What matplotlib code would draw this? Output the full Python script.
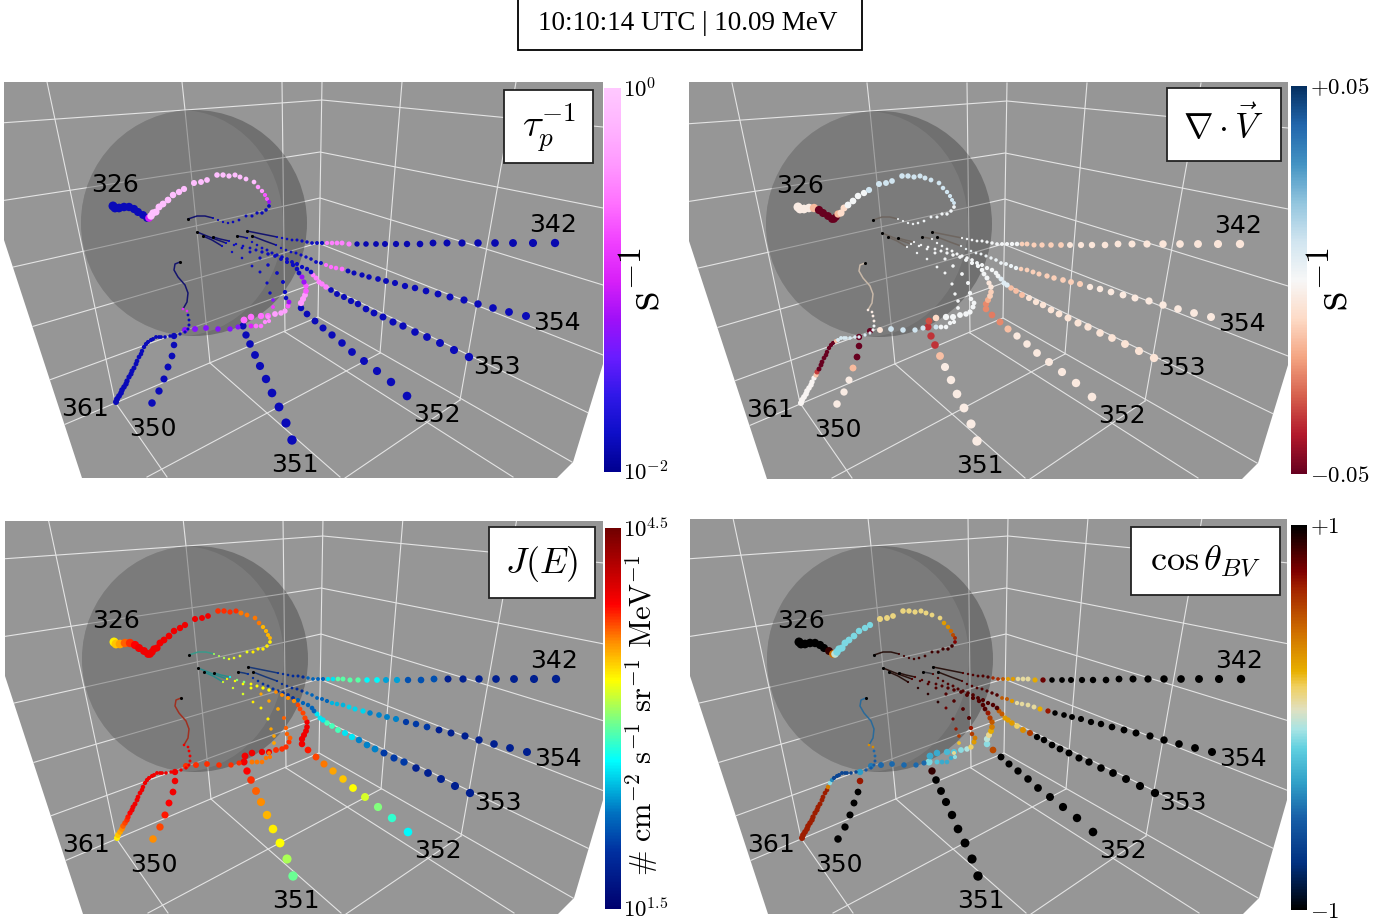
import numpy as np
import matplotlib
matplotlib.use("Agg")
import matplotlib.pyplot as plt
from matplotlib.cm import ScalarMappable
from matplotlib.colors import LinearSegmentedColormap, LogNorm, Normalize
from matplotlib.patches import Circle, Ellipse, Polygon, Rectangle

plt.rcParams['mathtext.fontset'] = 'cm'

W, H = 1398, 922

# spacecraft tracks, outer end first in its pixels
xy_342 = [(555,243),(533,243),(513,243),(495,243),(478,243),(462,243),(447,243),(433,243),(420,244),(407,244),
          (396,244),(385,244),(376,244),(366,244),(357,244),(349,244),(342,243),(337,243),(332,243),(327,243),
          (322,243),(317,243),(312,243),(307,242),(302,241),(297,240),(292,240),(287,239),(282,238),(277,237)]
xy_354 = [(526,316),(509,312),(493,308),(478,304),(464,300),(450,297),(438,294),(426,291),(415,288),(405,286),
          (395,283),(386,281),(378,279),(369,277),(362,275),(354,273),(348,271),(342,269),(336,268),(331,267),
          (326,265),(321,263),(316,262),(311,259),(306,257),(301,255),(296,253),(291,252),(286,250),(281,248),(276,245)]
xy_353 = [(469,357),(454,350),(440,343),(427,337),(415,332),(403,326),(393,322),(383,317),(374,313),(366,309),
          (358,304),(351,301),(344,297),(337,294),(331,290),(326,287),(322,284),(319,282),(316,278),(313,275),
          (311,272),(307,269),(302,267),(297,264),(292,262),(287,259),(282,257),(277,255),(272,253),(267,250),
          (262,248),(257,245),(252,242),(247,238)]
xy_352 = [(407,396),(391,382),(377,371),(364,361),(352,352),(342,343),(332,335),(323,328),(315,321),(307,314),
          (301,308),(301,303),(303,299),(305,295),(306,291),(306,286),(304,282),(302,277),(299,273),(297,269),
          (293,265),(287,262),(281,259),(275,256),(268,254),(262,252),(256,250),(250,248),(243,246),(236,244),(229,241)]
xy_351 = [(292,440),(286,423),(279,407),(272,393),(266,379),(260,366),(255,355),(250,344),(246,335),(243,326),
          (244,320),(251,317),(261,316),(268,316),(275,314),(281,313),(285,311),(288,306),(289,302),(286,298),
          (285,292),(283,282),(277,273),(268,265),(260,258),(250,252),(242,248),(234,245),(226,243)]
xy_350 = [(152,403),(159,391),(164,379),(168,367),(172,356),(174,345),(174,336),(185,330),(195,329),(206,328),
          (218,329),(230,329),(238,327),(251,326),(256,326),(261,326),(265,322),(269,321),(268,317),(273,307),
          (273,300),(270,293),(267,283),(260,272),(252,266),(242,258),(232,252),(222,246)]
xy_361 = [(116,402),(117,399),(119,396),(121,393),(122,390),(124,387),(126,384),(127,381),(129,377),(131,374),
          (132,371),(134,368),(136,364),(137,361),(139,357),(141,354),(142,351),(144,347),(146,344),(148,342),
          (151,340),(153,339),(156,337),(159,337),(161,337),(165,337),(170,336),(174,336),(180,334),(185,332),
          (188,329),(189,325),(189,320),(188,315),(187,311),(183,309)]
xy_326 = [(113,206),(115,208),(119,208),(124,207),(129,207),(134,209),(138,212),(143,215),(147,218),(149,218),
          (151,216),(153,213),(156,212),(159,207),(163,204),(168,200),(173,195),(179,192),(184,189),(194,183),
          (201,182),(207,180),(217,175),(223,175),(229,176),(235,175),(240,177),(246,179),(254,182),(258,187),
          (262,191),(265,195),(267,199),(269,202),(269,206),(266,210),(262,213),(257,213),(252,216),(246,216),
          (239,220),(233,222),(228,223),(223,222),(218,220),(213,218)]

# inner ends, seen as thin lines near the sun
tail_342 = [(277,237),(262,234),(247,231)]
tail_354 = [(276,245),(265,241),(252,236)]
tail_353 = [(247,238),(243,237),(237,236)]
tail_352 = [(229,241),(220,239),(213,237)]
tail_351 = [(226,243),(212,238),(197,232)]
tail_350 = [(222,246),(212,240),(203,236)]
tail_361 = [(183,309),(187,302),(188,293),(185,285),(178,277),(174,270),(175,264),(180,262)]
tail_326 = [(213,218),(205,216),(197,216),(188,219)]

# colour values as (count, value) runs along each track
tau_342 = [(15,.013),(5,.3),(10,.015)]
tau_354 = [(17,.014),(4,.25),(10,.015)]
tau_353 = [(15,.014),(5,.3),(14,.015)]
tau_352 = [(11,.014),(3,.4),(2,.2),(2,.06),(13,.015)]
tau_351 = [(10,.014),(4,.25),(3,.45),(1,.2),(1,.06),(10,.015)]
tau_350 = [(7,.014),(6,.05),(1,.1),(2,.25),(3,.35),(1,.15),(1,.05),(7,.015)]
tau_361 = [(34,.014),(2,.12)]
tau_326 = [(9,.014),(1,.1),(19,.8),(2,.4),(2,.2),(1,.06),(12,.014)]

div_342 = [(12,-.006),(6,-.012),(12,.001)]
div_354 = [(10,-.005),(9,-.012),(12,.003)]
div_353 = [(13,-.007),(3,-.015),(3,.006),(15,.001)]
div_352 = [(7,-.005),(1,-.015),(1,-.024),(1,-.026),(2,-.024),(1,-.018),(2,-.012),(2,-.006),(14,.001)]
div_351 = [(6,-.004),(1,-.015),(3,-.036),(1,-.032),(1,-.01),(17,.001)]
div_350 = [(3,-.004),(1,-.016),(4,-.05),(1,-.007),(5,.01),(14,.001)]
div_361 = [(9,-.001),(1,-.014),(1,-.035),(9,-.05),(1,-.015),(9,.008),(2,.002),(4,-.004)]
div_326 = [(4,-.004),(1,-.016),(6,-.05),(1,-.016),(2,-.009),(4,.001),(16,.01),(12,.002)]

flux_342 = [(7,1.8),(3,2.1),(2,2.4),(2,2.65),(4,2.9),(2,2.6),(4,2.2),(6,1.9)]
flux_354 = [(7,1.8),(3,2.0),(4,2.3),(3,2.55),(3,2.45),(5,2.2),(6,1.9)]
flux_353 = [(5,1.8),(3,2.0),(3,2.3),(2,2.6),(3,2.85),(3,2.6),(5,2.2),(10,1.95)]
flux_352 = [(1,2.65),(1,2.8),(1,3.0),(1,3.2),(1,3.3),(1,3.45),(1,3.55),(1,3.65),(1,3.75),(1,3.85),(6,3.95),(4,3.75),(4,3.6),(4,3.3),(2,3.0),(1,2.7)]
flux_351 = [(1,2.95),(1,3.1),(1,3.3),(1,3.35),(1,3.5),(1,3.6),(1,3.7),(1,3.8),(1,3.9),(1,3.95),(4,3.95),(4,3.8),(4,3.7),(3,3.55),(2,3.3)]
flux_350 = [(1,3.6),(1,3.75),(1,3.85),(1,3.9),(3,3.95),(6,3.8),(6,3.65),(3,3.55),(3,3.35),(3,3.2)]
flux_361 = [(1,3.35),(1,3.45),(1,3.55),(1,3.6),(1,3.7),(1,3.75),(1,3.8),(1,3.85),(1,3.9),(27,3.95)]
flux_326 = [(1,3.35),(1,3.45),(1,3.55),(1,3.7),(1,3.8),(1,3.9),(16,3.95),(4,3.8),(4,3.65),(4,3.5),(5,3.35),(4,3.25),(3,3.1)]

cos_342 = [(14,1),(1,.8),(1,.25),(3,.08),(2,.3),(1,.5),(2,.65),(6,.85)]
cos_354 = [(14,1),(1,.7),(1,.25),(4,.08),(1,.3),(2,.5),(8,.85)]
cos_353 = [(12,1),(1,.6),(1,.35),(1,.15),(3,.3),(2,.5),(14,.85)]
cos_352 = [(9,1),(1,.55),(1,-.1),(1,-.03),(1,.1),(1,.25),(1,.4),(1,.5),(1,.6),(1,.7),(13,.85)]
cos_351 = [(8,1),(1,.9),(1,-.12),(1,-.3),(1,-.3),(1,-.25),(1,-.2),(1,-.1),(1,-.05),(1,.15),(1,.3),(1,.4),(1,.6),(1,.7),(8,.85)]
cos_350 = [(5,1),(1,.7),(1,-.35),(1,-.45),(5,-.5),(1,-.2),(3,-.3),(1,-.1),(1,.1),(1,.2),(1,.6),(1,.7),(2,.8),(4,.92)]
cos_361 = [(16,.68),(1,.4),(1,-.1),(1,-.4),(8,-.65),(1,-.35),(4,-.55),(2,-.5),(2,.35)]
cos_326 = [(7,1),(1,.9),(1,.45),(1,-.02),(9,-.12),(10,.12),(1,.3),(1,.35),(1,.45),(1,.55),(1,.65),(1,.75),(11,.88)]

names = ['342', '354', '353', '352', '351', '350', '361', '326']
tracks = [xy_342, xy_354, xy_353, xy_352, xy_351, xy_350, xy_361, xy_326]
tails = [tail_342, tail_354, tail_353, tail_352, tail_351, tail_350, tail_361, tail_326]
# dot diameters in pixels at the outer and inner end
dot_outer = [8.3, 8, 8.3, 8.6, 9.4, 7.5, 6, 9]
dot_inner = [2.2, 2.2, 2.2, 2.2, 2.2, 2.2, 2.6, 2]
label_xy = [(553,225),(557,323),(497,367),(437,415),(295,465),(153,429),(85,409),(115,185)]

cmap_tau = LinearSegmentedColormap.from_list('tau', ['#000090','#0e0ec8','#3018e8','#6a1cff','#a010f8','#d820f8',
                                                     '#f040ff','#ff70ff','#ff98ff','#ffb4ff','#ffc8ff'])
cmap_flux = LinearSegmentedColormap.from_list('flux', [(0,'#00006e'),(.15,'#0030a0'),(.25,'#0070c0'),(.39,'#00ffff'),
                                                       (.5,'#80ff80'),(.6,'#ffff00'),(.7,'#ff9000'),(.8,'#ff0000'),(1,'#700000')])
cmap_cos = LinearSegmentedColormap.from_list('cosbv', [(0,'#000000'),(.12,'#003080'),(.24,'#1860a8'),(.33,'#30a0c8'),
                                                       (.42,'#60d0e0'),(.47,'#a8e4e4'),(.52,'#e0e0c0'),(.58,'#f0d060'),
                                                       (.62,'#e8b000'),(.72,'#d07000'),(.84,'#a02000'),(.88,'#800000'),(1,'#000000')])

panels = [
    dict(off=(0,0), top=82, right=603, cmap=cmap_tau, norm=LogNorm(1e-2, 1), vals=[tau_342,tau_354,tau_353,tau_352,tau_351,tau_350,tau_361,tau_326],
         tail='#14146e', tail_over={}, box=(504,90,593,163), title=r'$\tau_p^{-1}$', tsize=28,
         bar=(604,88,621,472), ticks=[1e-2,1], ticklabels=[r'$10^{-2}$', r'$10^{0}$'], tickx=623),
    dict(off=(685,1), top=81, right=603, cmap=plt.get_cmap('RdBu'), norm=Normalize(-.05, .05), vals=[div_342,div_354,div_353,div_352,div_351,div_350,div_361,div_326],
         tail='#6e6660', tail_over={'361':'#c8b8a8'}, box=(1167,88,1281,161), title=r'$\nabla\cdot\vec{V}$', tsize=25.5,
         bar=(1291,86,1307,474), ticks=[-.05,.05], ticklabels=[r'$-0.05$', r'$+0.05$'], tickx=1310),
    dict(off=(1,436), top=85, right=602, cmap=cmap_flux, norm=Normalize(1.5, 4.5), vals=[flux_342,flux_354,flux_353,flux_352,flux_351,flux_350,flux_361,flux_326],
         tail='#183878', tail_over={'361':'#a03020','326':'#3a9a8a','352':'#2a8a8a','351':'#2a8a8a','350':'#2a8a8a'},
         box=(489,527,595,598), title=r'$J(E)$', tsize=26,
         bar=(605,528,621,909), ticks=[1.5,4.5], ticklabels=[r'$10^{1.5}$', r'$10^{4.5}$'], tickx=623),
    dict(off=(686,436), top=83, right=601, cmap=cmap_cos, norm=Normalize(-1, 1), vals=[cos_342,cos_354,cos_353,cos_352,cos_351,cos_350,cos_361,cos_326],
         tail='#2a1410', tail_over={'361':'#2a6a9a','353':'#3a3a40'}, box=(1131,527,1280,595), title=r'$\cos\theta_{BV}$', tsize=26,
         bar=(1291,525,1307,910), ticks=[-1,1], ticklabels=[r'$-1$', r'$+1$'], tickx=1310),
]

grid_lines = [
    [(0,123),(185,110),(322,100),(603,127)], [(0,201),(320,152),(603,208)], [(0,270),(320,198),(603,285)],
    [(0,336),(318,243),(603,355)], [(0,398),(318,282),(603,420)], [(54,429),(318,317),(572,462)],
    [(47,82),(70,190),(115,402)], [(182,82),(185,110),(210,363)], [(282,82),(285,332)], [(322,82),(318,317)],
    [(402,82),(380,353)], [(516,82),(460,400)],
    [(380,353),(147,477)], [(460,400),(345,478)], [(285,332),(513,477)], [(210,363),(340,477)], [(115,402),(167,477)],
]


def values_of(runs, n):
    v = np.repeat([r[1] for r in runs], [r[0] for r in runs])
    if len(v) < n:
        v = np.append(v, [v[-1]] * (n - len(v)))
    return v[:n]


fig = plt.figure(figsize=(W / 100, H / 100), dpi=100)

for p in panels:
    ox, oy = p['off']
    x0, y0, x1, y1 = 0, 70, 610, 482
    ax = fig.add_axes([(x0 + ox) / W, 1 - (y1 + oy) / H, (x1 - x0) / W, (y1 - y0) / H])
    ax.set_xlim(x0, x1)
    ax.set_ylim(y1, y0)
    ax.axis('off')

    floor = Polygon([(4,p['top']),(p['right'],p['top']),(p['right'],364),(573,462),(557,478),(82,478),(4,240)],
                    fc='#969696', ec='none', zorder=1)
    ax.add_patch(floor)
    for seg in grid_lines:
        seg = np.array(seg)
        ln, = ax.plot(seg[:,0], seg[:,1], color='#e4e4e4', lw=0.8, zorder=2)
        ln.set_clip_path(floor)

    disk = Circle((194,223), 113, fc='black', alpha=0.25, ec='none', zorder=3)
    ax.add_patch(disk)
    inner = Ellipse((180,223), 206, 226, fc='#969696', alpha=0.3, ec='none', zorder=3.1)
    ax.add_patch(inner)
    inner.set_clip_path(disk)

    for i, name in enumerate(names):
        pts = np.array(tracks[i])
        tl = np.array(tails[i])
        ax.plot(tl[:,0], tl[:,1], color=p['tail_over'].get(name, p['tail']), lw=1.1, zorder=4, solid_capstyle='round')
        ax.scatter(tl[-1,0], tl[-1,1], s=5, c='black', linewidths=0, zorder=4.1)
        d = np.linspace(dot_outer[i], dot_inner[i], len(pts))
        ax.scatter(pts[:,0], pts[:,1], s=(d * 0.72) ** 2, c=values_of(p['vals'][i], len(pts)),
                   cmap=p['cmap'], norm=p['norm'], linewidths=0, zorder=5)
        ax.text(label_xy[i][0], label_xy[i][1], name, fontsize=18, ha='center', va='center', color='black', zorder=6)

    # title box of the panel
    bx0, by0, bx1, by1 = p['box']
    fig.add_artist(Rectangle((bx0 / W, 1 - by1 / H), (bx1 - bx0) / W, (by1 - by0) / H, transform=fig.transFigure,
                             fc='white', ec='#222222', lw=1.3, zorder=10))
    fig.text((bx0 + bx1) / 2 / W, 1 - ((by0 + by1) / 2 + 1) / H, p['title'], fontsize=p['tsize'], ha='center', va='center', zorder=11)

    # colour bar
    cx0, cy0, cx1, cy1 = p['bar']
    cax = fig.add_axes([cx0 / W, 1 - cy1 / H, (cx1 - cx0) / W, (cy1 - cy0) / H])
    cb = fig.colorbar(ScalarMappable(norm=p['norm'], cmap=p['cmap']), cax=cax)
    cb.outline.set_visible(False)
    cb.minorticks_off()
    cb.set_ticks(p['ticks'], labels=[''] * 2)
    cax.tick_params(length=0)
    fig.text(p['tickx'] / W, 1 - (cy1 + 1) / H, p['ticklabels'][0], fontsize=16.5, ha='left', va='center')
    fig.text(p['tickx'] / W, 1 - (cy0 + 2) / H, p['ticklabels'][1], fontsize=16.5, ha='left', va='center')

fig.text(646 / W, 1 - 279 / H, r'$\mathrm{s}^{-1}$', fontsize=35, rotation=90, ha='center', va='center')
fig.text(1333 / W, 1 - 279 / H, r'$\mathrm{s}^{-1}$', fontsize=35, rotation=90, ha='center', va='center')
fig.text(642 / W, 1 - 715 / H, r'$\#\ \mathrm{cm}^{-2}\ \mathrm{s}^{-1}\ \mathrm{sr}^{-1}\ \mathrm{MeV}^{-1}$',
         fontsize=22, rotation=90, ha='center', va='center')

fig.add_artist(Rectangle((518 / W, 1 - 50 / H), 344 / W, 52 / H, transform=fig.transFigure, fc='white', ec='black', lw=1.3))
fig.text(688 / W, 1 - 23 / H, '10:10:14 UTC | 10.09 MeV', family='Liberation Serif', fontsize=19.5, ha='center', va='center')

fig.savefig('out.png', dpi=100)
